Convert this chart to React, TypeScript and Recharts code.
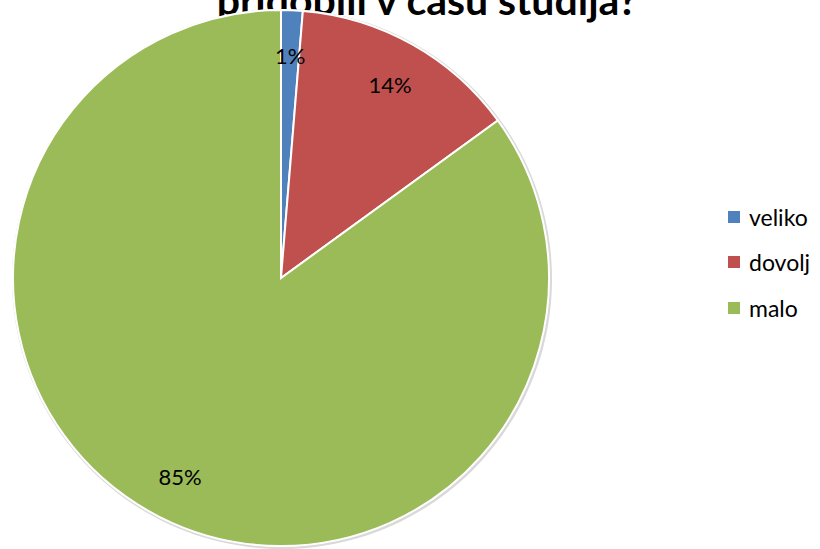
import React from "react";
import { PieChart, Pie, Cell, Legend } from "recharts";

const categories = ["veliko", "dovolj", "malo"];
const shares = [1.3, 13.7, 85.0];
const shareLabels = ["1%", "14%", "85%"];
const colors = ["#4F81BD", "#C0504D", "#9BBB59"];

const data = categories.map((name, i) => ({ name, value: shares[i], label: shareLabels[i] }));

const FONT = "Lato, 'Open Sans', sans-serif";
const RAD = Math.PI / 180;

const renderLabel = (props: any) => {
    const { cx, cy, midAngle, outerRadius, index } = props;
    const r = outerRadius * 0.83;
    const x = cx + r * Math.cos(-midAngle * RAD);
    const y = cy + r * Math.sin(-midAngle * RAD);
    return (
        <text
            x={x}
            y={y}
            fill="#000"
            textAnchor="middle"
            dominantBaseline="central"
            style={{ fontFamily: FONT, fontSize: 22 }}
        >
            {data[index].label}
        </text>
    );
};

const renderLegend = () => (
    <div style={{ fontFamily: FONT, fontSize: 23, color: "#000" }}>
        {data.map((d, i) => (
            <div key={d.name} style={{ display: "flex", alignItems: "center", height: 45.5 }}>
                <span
                    style={{
                        display: "inline-block",
                        width: 12,
                        height: 12,
                        background: colors[i],
                        marginRight: 9,
                    }}
                />
                <span>{d.name}</span>
            </div>
        ))}
    </div>
);

export default function App() {
    return (
        <div style={{ position: "fixed", left: 0, top: 0, width: 820, height: 549, background: "#fff", overflow: "hidden" }}>
            <div
                style={{
                    position: "absolute",
                    left: 0,
                    width: 854,
                    top: -21,
                    textAlign: "center",
                    fontFamily: FONT,
                    fontWeight: 700,
                    fontSize: 41,
                    lineHeight: "42px",
                    color: "#000",
                    whiteSpace: "nowrap",
                }}
            >
                pridobili v času študija?
            </div>
            <PieChart width={820} height={549} margin={{ top: 0, right: 0, bottom: 0, left: 0 }}>
                <Pie
                    data={[{ value: 1 }]}
                    dataKey="value"
                    cx={282}
                    cy={279}
                    outerRadius={270}
                    fill="#d9d9d9"
                    stroke="none"
                    isAnimationActive={false}
                />
                <Pie
                    data={data}
                    dataKey="value"
                    nameKey="name"
                    cx={281}
                    cy={278}
                    outerRadius={268}
                    startAngle={90}
                    endAngle={-270}
                    stroke="#fff"
                    strokeWidth={2}
                    label={renderLabel}
                    labelLine={false}
                    isAnimationActive={false}
                >
                    {data.map((d, i) => (
                        <Cell key={d.name} fill={colors[i]} />
                    ))}
                </Pie>
                <Legend
                    content={renderLegend}
                    wrapperStyle={{ position: "absolute", left: 728, top: 194, width: 120 }}
                />
            </PieChart>
        </div>
    );
}
